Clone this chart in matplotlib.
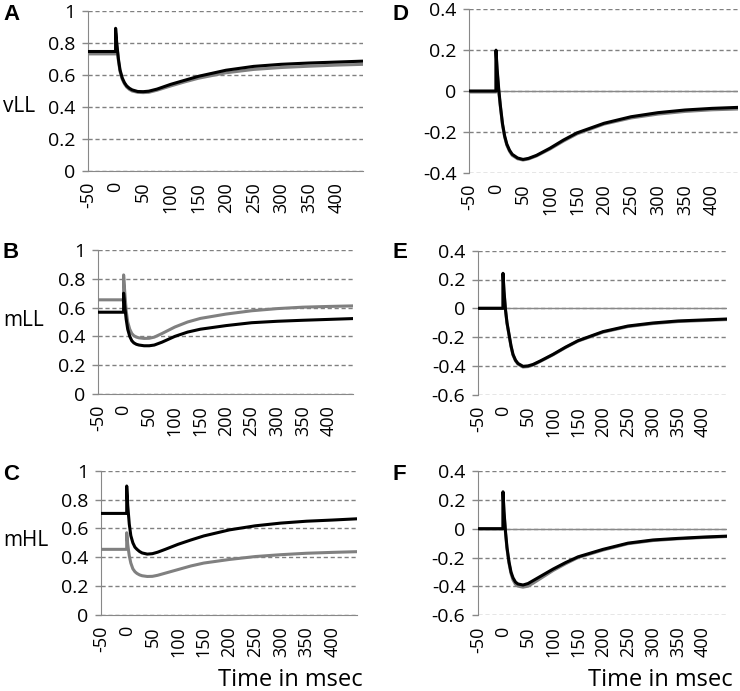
import matplotlib
matplotlib.use("Agg")
import matplotlib.pyplot as plt
from matplotlib.ticker import FuncFormatter

# Time axis (msec), shared by every trace
t_ms = [-50, 0, 0, 2, 5, 8, 12, 16, 20, 25, 30, 40, 50, 60, 75,
        100, 125, 150, 200, 250, 300, 350, 400, 450]

# Left column: vLL, mLL, mHL
vLL_black = [0.745, 0.745, 0.89, 0.80, 0.70, 0.63, 0.58, 0.55, 0.53, 0.515, 0.505, 0.495,
             0.494, 0.497, 0.51, 0.54, 0.565, 0.59, 0.628, 0.652, 0.665, 0.673, 0.679, 0.685]
vLL_gray = [0.73, 0.73, 0.86, 0.79, 0.69, 0.62, 0.572, 0.543, 0.523, 0.508, 0.498, 0.49,
            0.488, 0.49, 0.503, 0.53, 0.555, 0.578, 0.612, 0.633, 0.645, 0.653, 0.66, 0.665]
mLL_black = [0.568, 0.568, 0.70, 0.62, 0.52, 0.45, 0.40, 0.37, 0.355, 0.345, 0.34, 0.335,
             0.335, 0.34, 0.36, 0.40, 0.43, 0.45, 0.475, 0.495, 0.505, 0.512, 0.518, 0.524]
mLL_gray = [0.654, 0.654, 0.827, 0.72, 0.58, 0.50, 0.45, 0.42, 0.405, 0.395, 0.39, 0.386,
            0.387, 0.395, 0.42, 0.465, 0.50, 0.525, 0.555, 0.578, 0.593, 0.603, 0.608, 0.612]
mHL_black = [0.704, 0.704, 0.894, 0.76, 0.63, 0.55, 0.50, 0.47, 0.455, 0.44, 0.43, 0.422,
             0.425, 0.435, 0.455, 0.49, 0.52, 0.548, 0.59, 0.618, 0.637, 0.65, 0.658, 0.667]
mHL_gray = [0.455, 0.455, 0.57, 0.49, 0.41, 0.36, 0.32, 0.30, 0.288, 0.278, 0.272, 0.267,
            0.268, 0.275, 0.29, 0.315, 0.34, 0.36, 0.385, 0.405, 0.418, 0.428, 0.434, 0.439]

# Right column: differences
D_black = [0.0, 0.0, 0.20, 0.11, 0.01, -0.07, -0.16, -0.22, -0.26, -0.29, -0.31, -0.328,
           -0.335, -0.33, -0.315, -0.28, -0.24, -0.205, -0.158, -0.126, -0.106, -0.093, -0.085, -0.08]
D_gray = [-0.005, -0.005, 0.19, 0.10, 0.0, -0.075, -0.165, -0.225, -0.265, -0.295, -0.315, -0.332,
          -0.338, -0.333, -0.318, -0.284, -0.245, -0.21, -0.162, -0.132, -0.113, -0.1, -0.092, -0.088]
E_black = [0.0, 0.0, 0.243, 0.12, -0.01, -0.10, -0.18, -0.26, -0.32, -0.36, -0.383, -0.403,
           -0.40, -0.39, -0.365, -0.32, -0.27, -0.225, -0.162, -0.123, -0.102, -0.088, -0.081, -0.074]
E_gray = [0.0, 0.0, 0.235, 0.115, -0.015, -0.105, -0.185, -0.265, -0.325, -0.365, -0.388, -0.408,
          -0.405, -0.394, -0.368, -0.323, -0.273, -0.228, -0.166, -0.127, -0.106, -0.092, -0.085, -0.078]
F_black = [0.0, 0.0, 0.256, 0.12, -0.02, -0.13, -0.23, -0.30, -0.34, -0.37, -0.383, -0.39,
           -0.38, -0.36, -0.33, -0.28, -0.235, -0.195, -0.143, -0.10, -0.078, -0.067, -0.058, -0.051]
F_gray = [0.0, 0.0, 0.245, 0.11, -0.03, -0.14, -0.24, -0.31, -0.355, -0.385, -0.398, -0.405,
          -0.398, -0.378, -0.345, -0.29, -0.243, -0.2, -0.148, -0.104, -0.082, -0.07, -0.061, -0.054]

x_ticks = [-50, 0, 50, 100, 150, 200, 250, 300, 350, 400]
left_yticks = [0, 0.2, 0.4, 0.6, 0.8, 1]
D_yticks = [-0.4, -0.2, 0, 0.2, 0.4]
EF_yticks = [-0.6, -0.4, -0.2, 0, 0.2, 0.4]

GRAY = '#808080'
AXIS = '#888888'
plt.rcParams['font.family'] = ['Open Sans', 'DejaVu Sans']

fig = plt.figure(figsize=(7.4, 6.91), dpi=100)

# (rect in pixels: left, top, right, bottom), black, gray, yticks, letter, letter pos, ylabel, ylabel y
panels = [
    ((88, 10.7, 363, 170.7), vLL_black, vLL_gray, left_yticks, 'A', (3, 14.5), 'vLL', 106),
    ((98, 250, 353, 394), mLL_black, mLL_gray, left_yticks, 'B', (3, 253), 'mLL', 320),
    ((101, 470.7, 357, 615), mHL_black, mHL_gray, left_yticks, 'C', (3, 475), 'mHL', 541),
    ((469, 9.3, 738, 172.7), D_black, D_gray, D_yticks, 'D', (392, 14), None, None),
    ((478, 250.7, 727, 394.7), E_black, E_gray, EF_yticks, 'E', (392, 253), None, None),
    ((478, 471, 727, 615.3), F_black, F_gray, EF_yticks, 'F', (392, 475), None, None),
]

W, H = 740.0, 691.0
for rect, black, gray, yticks, letter, lpos, ylab, ylab_y in panels:
    l, t, r, b = rect
    ax = fig.add_axes([l / W, 1 - b / H, (r - l) / W, (b - t) / H])
    ax.plot(t_ms, gray, color=GRAY, lw=2.2, zorder=3)
    ax.plot(t_ms, black, color='black', lw=2.2, zorder=4)
    ax.set_xlim(-50, 448)
    ax.set_ylim(yticks[0], yticks[-1])
    ax.set_yticks(yticks)
    ax.set_xticks(x_ticks)
    ax.yaxis.set_major_formatter(FuncFormatter(lambda v, p: '%g' % round(v, 2)))
    ax.set_xticklabels([str(v) for v in x_ticks], rotation=90)
    ax.tick_params(axis='y', length=4, color=AXIS, width=1, labelsize=14, pad=5)
    ax.tick_params(axis='x', length=0, labelsize=13, pad=8)
    for s in ['top', 'right']:
        ax.spines[s].set_visible(False)
    ax.spines['left'].set_color(AXIS)
    ax.spines['bottom'].set_color(AXIS)
    ax.yaxis.grid(True, color=GRAY, lw=1, linestyle=(0, (3, 2)))
    ax.set_axisbelow(True)
    if yticks[0] < 0:
        ax.spines['bottom'].set_visible(False)
        ax.axhline(0, color=AXIS, lw=1, zorder=2)
    fig.text(lpos[0] / W, 1 - lpos[1] / H, letter, fontsize=16, fontweight='bold',
             family='Liberation Sans', ha='left', va='center')
    if ylab:
        fig.text(3 / W, 1 - ylab_y / H, ylab, fontsize=15, ha='left', va='center')

fig.text(363 / W, 1 - 680 / H, 'Time in msec', fontsize=17, ha='right', va='center')
fig.text(733 / W, 1 - 680 / H, 'Time in msec', fontsize=17, ha='right', va='center')

fig.savefig('out.png', dpi=100)
